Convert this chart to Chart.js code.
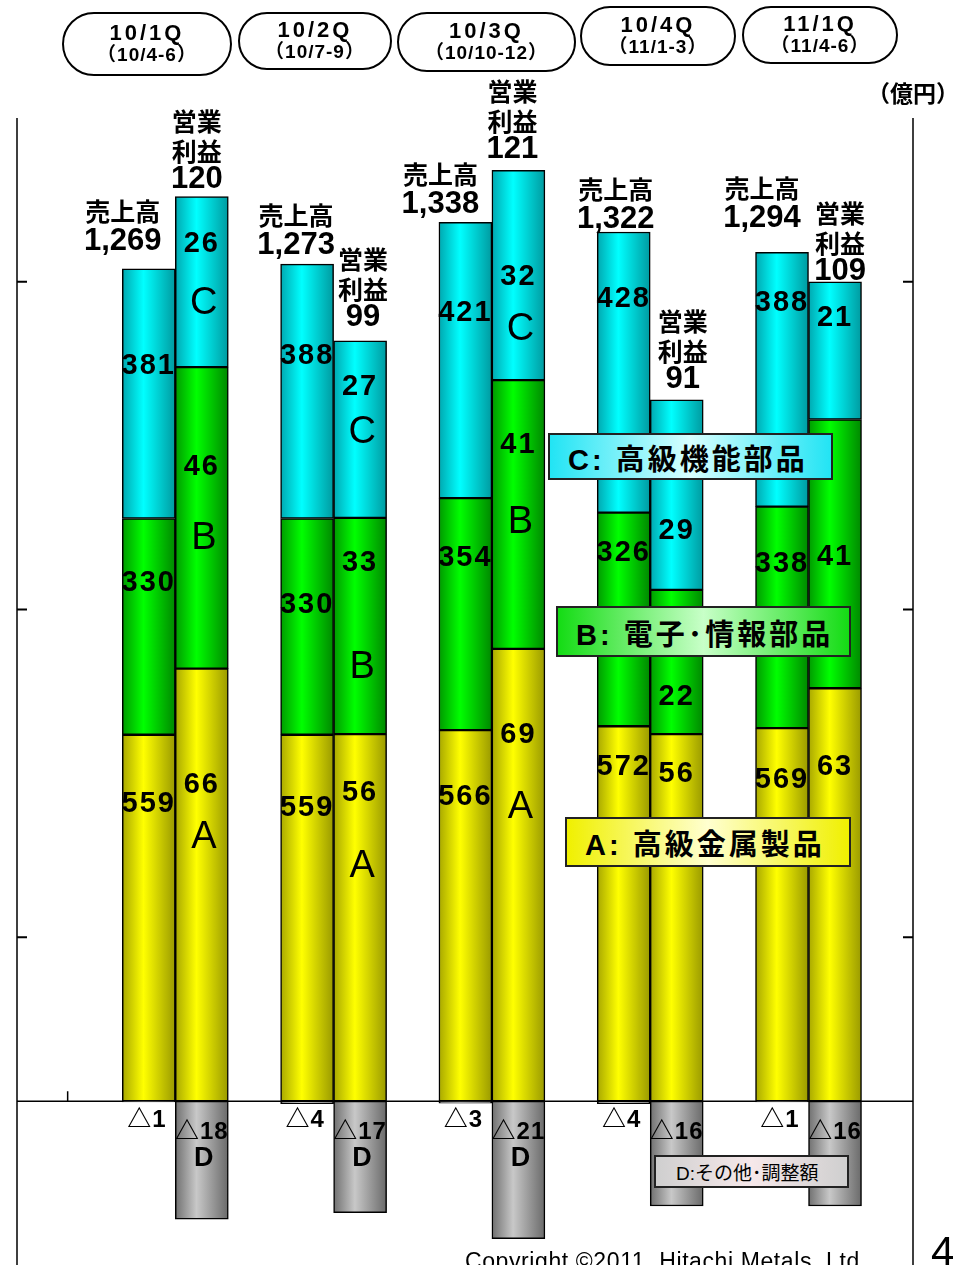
<!DOCTYPE html>
<html>
<head>
<meta charset="utf-8">
<script src="https://cdn.jsdelivr.net/npm/chart.js@4.4.1/dist/chart.umd.min.js"></script>
<style>
  body { margin: 0; background: #fff; }
  #wrap { position: relative; width: 953px; height: 1265px; overflow: hidden; font-family: 'Liberation Sans', 'Noto Sans CJK JP', sans-serif; }
  canvas { position: absolute; left: 0; top: 0; }
  .qbox { position: absolute; border: 2px solid #000; border-radius: 32px; background: #fff; box-sizing: border-box;
          display: flex; flex-direction: column; justify-content: center; align-items: center; font-weight: bold; line-height: 22px; }
  .qbox .q { font-size: 22px; letter-spacing: 3px; }
  .qbox .p { font-size: 19px; letter-spacing: 1px; }
  .leg { position: absolute; border: 2px solid #222; box-sizing: border-box; font-weight: bold; font-size: 29px;
         display: flex; align-items: center; padding-left: 18px; letter-spacing: 3px; }
  .note { position: absolute; }
</style>
</head>
<body>
<div id="wrap">
  <canvas id="chart" width="953" height="1265"></canvas>
</div>
<script>
// quarter labels
const quarters = ['10/1Q', '10/2Q', '10/3Q', '10/4Q', '11/1Q'];
const periods = ['（10/4-6）', '（10/7-9）', '（10/10-12）', '（11/1-3）', '（11/4-6）'];

// 売上高 (sales) by segment, 億円
const salesA = [559, 559, 566, 572, 569];
const salesB = [330, 330, 354, 326, 338];
const salesC = [381, 388, 421, 428, 388];
const salesD = [-1, -4, -3, -4, -1];
const salesTotal = [1269, 1273, 1338, 1322, 1294];

// 営業利益 (operating profit) by segment, 億円
const profitA = [66, 56, 69, 56, 63];
const profitB = [46, 33, 41, 22, 41];
const profitC = [26, 27, 32, 29, 21];
const profitD = [-18, -17, -21, -16, -16];
const profitTotal = [120, 99, 121, 91, 109];

// axis tick marks (no labels in the original)
const salesTicks = [250, 750, 1250];
const profitTicks = [25, 75, 125];

// where the value labels sit inside each segment (0 = top, 1 = bottom)
const salesLabelPos = { A: [0.19, 0.20, 0.18, 0.11, 0.14], B: [0.30, 0.40, 0.26, 0.19, 0.26], C: [0.39, 0.36, 0.33, 0.24, 0.20] };
const profitLabelPos = { A: [0.27, 0.16, 0.19, 0.11, 0.19], B: [0.33, 0.21, 0.24, 0.74, 0.51], C: [0.28, 0.26, 0.51, 0.69, 0.26] };
const letterPos = { A: [0.39, 0.36, 0.35], B: [0.57, 0.69, 0.53], C: [0.63, 0.52, 0.76] };
const salesTotalShift = [[-26, -27], [-11, -19], [-25, -18], [-8, -13], [-20, -34]];
const profitTotalShift = [[-5, -17], [3, -23], [-6, -21], [6, -20], [5, -10]];

const BAR_W = 53;

const colors = {
    A: ['#a8a800', '#ffff00', '#9a9a00'],
    B: ['#009a00', '#00ff00', '#008800'],
    C: ['#00a8b0', '#00ffff', '#009aa0'],
    D: ['#707070', '#c8c8c8', '#6a6a6a']
};

function barFill(c, side) {
    return (ctx) => {
        const chart = ctx.chart;
        if (!chart.chartArea || ctx.type !== 'data' || !chart.scales.x) return c[1];
        const cx = chart.scales.x.getPixelForValue(ctx.dataIndex + 1);
        const left = side === 0 ? cx - BAR_W : cx;
        const g = chart.ctx.createLinearGradient(left, 0, left + BAR_W, 0);
        g.addColorStop(0, c[0]);
        g.addColorStop(0.4, c[1]);
        g.addColorStop(1, c[2]);
        return g;
    };
}

const pts = (arr) => arr.map((v, i) => ({ x: i + 1, y: v }));

function ds(seg, values, stack) {
    return {
        label: stack + seg,
        seg: seg,
        data: pts(values),
        stack: stack,
        yAxisID: stack === 'sales' ? 'y' : 'y2',
        backgroundColor: barFill(colors[seg], stack === 'sales' ? 0 : 1)
    };
}

const datasets = [
    ds('A', salesA, 'sales'), ds('B', salesB, 'sales'), ds('C', salesC, 'sales'), ds('D', salesD, 'sales'),
    ds('A', profitA, 'profit'), ds('B', profitB, 'profit'), ds('C', profitC, 'profit'), ds('D', profitD, 'profit')
];

const fmt = (v) => v.toLocaleString('en-US');

function text(ctx, str, x, y, font, spacing) {
    ctx.font = font;
    ctx.letterSpacing = spacing || '0px';
    ctx.fillText(str, x, y);
}

const decorPlugin = {
    id: 'decor',
    beforeDatasetsDraw(chart) {
        const { ctx, chartArea, scales } = chart;
        const y0 = scales.y.getPixelForValue(0);
        ctx.save();
        ctx.strokeStyle = '#000';
        ctx.lineWidth = 1.5;
        ctx.beginPath();
        ctx.moveTo(chartArea.left, y0); ctx.lineTo(chartArea.right, y0);
        ctx.moveTo(chartArea.left, chartArea.top); ctx.lineTo(chartArea.left, chartArea.bottom);
        ctx.moveTo(chartArea.right, chartArea.top); ctx.lineTo(chartArea.right, chartArea.bottom);
        // lone category tick on the baseline
        const xt = scales.x.getPixelForValue(0.32);
        ctx.moveTo(xt, y0); ctx.lineTo(xt, y0 - 10);
        ctx.stroke();
        ctx.lineWidth = 2;
        ctx.beginPath();
        salesTicks.forEach(t => {
            const y = scales.y.getPixelForValue(t);
            ctx.moveTo(chartArea.left, y); ctx.lineTo(chartArea.left + 10, y);
        });
        profitTicks.forEach(t => {
            const y = scales.y2.getPixelForValue(t);
            ctx.moveTo(chartArea.right - 10, y); ctx.lineTo(chartArea.right, y);
        });
        ctx.stroke();
        ctx.restore();
    },
    afterDatasetsDraw(chart) {
        const { ctx } = chart;
        ctx.save();
        ctx.fillStyle = '#000';
        ctx.textAlign = 'center';
        ctx.textBaseline = 'middle';
        const numFont = 'bold 29px "Liberation Sans", sans-serif';
        chart.data.datasets.forEach((d, di) => {
            const meta = chart.getDatasetMeta(di);
            const isSales = d.stack === 'sales';
            meta.data.forEach((el, j) => {
                const top = Math.min(el.y, el.base);
                const bottom = Math.max(el.y, el.base);
                const h = bottom - top;
                const v = d.data[j].y;
                if (d.seg === 'D') {
                    const lbl = '△' + Math.abs(v);
                    if (isSales) {
                        text(ctx, lbl, el.x - 2, el.base + 19, 'bold 24px "Liberation Sans", "Noto Sans CJK JP"', '1px');
                    } else {
                        text(ctx, lbl, el.x, el.base + 31, 'bold 24px "Liberation Sans", "Noto Sans CJK JP"', '1px');
                        if (j < 3) text(ctx, 'D', el.x + 2, el.base + 57, 'bold 27px "Liberation Sans", sans-serif');
                    }
                    return;
                }
                const pos = isSales ? salesLabelPos[d.seg][j] : profitLabelPos[d.seg][j];
                text(ctx, String(v), el.x, top + h * pos, numFont, '2px');
                if (!isSales && j < 3) {
                    text(ctx, d.seg, el.x + 2, top + h * letterPos[d.seg][j], '38px "Liberation Sans", sans-serif');
                }
            });
        });

        // totals above the bars
        const salesTop = chart.getDatasetMeta(2).data;
        const profitTop = chart.getDatasetMeta(6).data;
        const cjk = 'bold 25px "Noto Sans CJK JP", sans-serif';
        const tot = 'bold 31px "Liberation Sans", sans-serif';
        salesTop.forEach((el, j) => {
            const [dx, dy] = salesTotalShift[j];
            const y = el.y + dy;
            text(ctx, fmt(salesTotal[j]), el.x + dx, y, tot);
            text(ctx, '売上高', el.x + dx, y - 30, cjk);
        });
        profitTop.forEach((el, j) => {
            const [dx, dy] = profitTotalShift[j];
            const y = el.y + dy;
            text(ctx, fmt(profitTotal[j]), el.x + dx, y, tot);
            text(ctx, '利益', el.x + dx, y - 28, cjk);
            text(ctx, '営業', el.x + dx, y - 58, cjk);
        });
        ctx.restore();
    }
};

new Chart(document.getElementById('chart'), {
    type: 'bar',
    data: { datasets: datasets },
    options: {
        responsive: false,
        animation: false,
        layout: { padding: { left: 17, right: 40, top: 118, bottom: 0 } },
        plugins: { legend: { display: false }, tooltip: { enabled: false } },
        datasets: { bar: { barThickness: BAR_W, borderWidth: 1.5, borderColor: '#000', borderSkipped: false } },
        scales: {
            x: { type: 'linear', min: 0, max: 5.66, offset: false, display: false },
            y: { stacked: true, min: -250, max: 1500, display: false },
            y2: { stacked: true, min: -25, max: 150, display: false }
        }
    },
    plugins: [decorPlugin]
});

// header boxes and notes
const wrap = document.getElementById('wrap');
const qboxes = [[62, 12, 170, 64], [238, 12, 154, 58], [397, 12, 179, 60], [580, 6, 156, 60], [742, 6, 156, 58]];
quarters.forEach((q, i) => {
    const [l, t, w, h] = qboxes[i];
    const b = document.createElement('div');
    b.className = 'qbox';
    b.style.cssText = `left:${l}px;top:${t}px;width:${w}px;height:${h}px;`;
    b.innerHTML = `<span class="q">${q}</span><span class="p">${periods[i]}</span>`;
    wrap.appendChild(b);
});

const legends = [
    ['C: 高級機能部品', 548, 433, 285, 47, 'linear-gradient(to right,#22e4f4,#d8ffff 50%,#22e4f4)'],
    ['B: 電子･情報部品', 556, 606, 295, 51, 'linear-gradient(to right,#14dc14,#c8ffc8 50%,#14dc14)'],
    ['A: 高級金属製品', 565, 817, 286, 50, 'linear-gradient(to right,#f0f000,#ffffd0 50%,#f0f000)']
];
legends.forEach(([t, l, top, w, h, bg]) => {
    const d = document.createElement('div');
    d.className = 'leg';
    d.style.cssText = `left:${l}px;top:${top}px;width:${w}px;height:${h}px;background:${bg};`;
    d.textContent = t;
    wrap.appendChild(d);
});

const dBox = document.createElement('div');
dBox.className = 'leg';
dBox.style.cssText = 'left:654px;top:1155px;width:195px;height:33px;font-weight:normal;font-size:19px;padding-left:20px;letter-spacing:0;' +
    'background:linear-gradient(to right,#cfcfcf,#f6e8ea 50%,#cfcfcf);';
dBox.textContent = 'D:その他･調整額';
wrap.appendChild(dBox);

const notes = [
    ['（億円）', 'left:867px;top:75px;font-size:23px;font-weight:bold;'],
    ['4', 'left:931px;top:1228px;font-size:42px;'],
    ['Copyright ©2011  Hitachi Metals, Ltd.', 'left:465px;top:1248px;font-size:23px;letter-spacing:0.6px;white-space:pre;']
];
notes.forEach(([t, css]) => {
    const n = document.createElement('div');
    n.className = 'note';
    n.style.cssText = css;
    n.textContent = t;
    wrap.appendChild(n);
});
</script>
</body>
</html>
